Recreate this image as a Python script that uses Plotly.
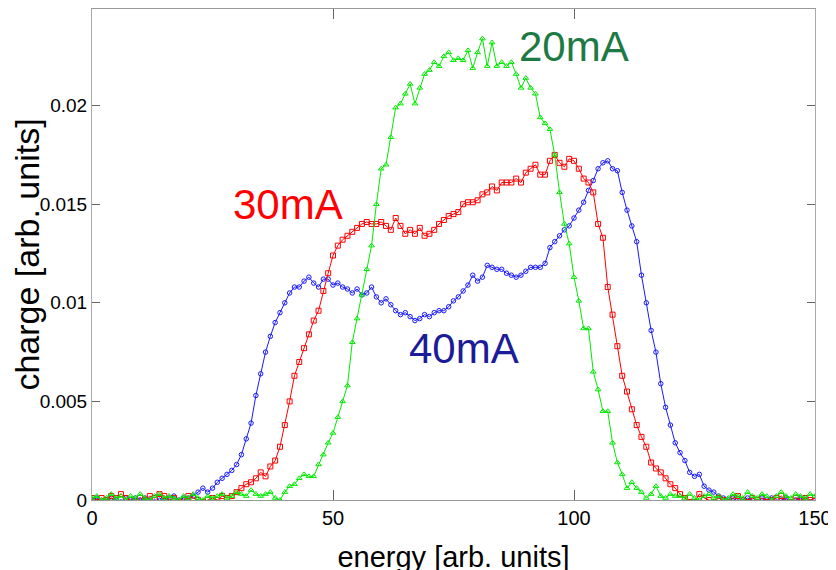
import plotly.graph_objects as go

energy = list(range(0, 151))

charge_20mA = [
    0.0001, 0.0002, 0.0000, 0.0001, 0.0003, 0.0001, 0.0002, 0.0000, 0.0002, 0.0001,
    0.0003, 0.0001, 0.0000, 0.0002, 0.0003, 0.0001, 0.0002, 0.0001, 0.0000, 0.0002,
    0.0001, 0.0003, 0.0001, 0.0000, 0.0002, 0.0001, 0.0002, 0.0003, 0.0001, 0.0002,
    0.0004, 0.0003, 0.0002, 0.0005, 0.0003, 0.0002, 0.0003, 0.0004, 0.0001, 0.0000,
    0.0004, 0.0007, 0.0008, 0.0011, 0.0013, 0.0012, 0.0012, 0.0018, 0.0023, 0.0029,
    0.0034, 0.0042, 0.0050, 0.0058, 0.0080, 0.0092, 0.0104, 0.0117, 0.0129, 0.0150,
    0.0168, 0.0170, 0.0184, 0.0199, 0.0201, 0.0206, 0.0211, 0.0201, 0.0209, 0.0216,
    0.0218, 0.0222, 0.0220, 0.0225, 0.0227, 0.0223, 0.0224, 0.0223, 0.0228, 0.0219,
    0.0227, 0.0234, 0.0220, 0.0232, 0.0220, 0.0222, 0.0220, 0.0222, 0.0216, 0.0209,
    0.0214, 0.0209, 0.0206, 0.0194, 0.0191, 0.0188, 0.0175, 0.0156, 0.0140, 0.0130,
    0.0113, 0.0101, 0.0087, 0.0087, 0.0065, 0.0056, 0.0045, 0.0045, 0.0029, 0.0019,
    0.0013, 0.0006, 0.0009, 0.0006, 0.0004, 0.0001, 0.0003, 0.0007, 0.0002, 0.0001,
    0.0003, 0.0002, 0.0002, 0.0001, 0.0003, 0.0001, 0.0000, 0.0002, 0.0003, 0.0001,
    0.0002, 0.0000, 0.0001, 0.0003, 0.0002, 0.0001, 0.0004, 0.0002, 0.0001, 0.0003,
    0.0002, 0.0000, 0.0002, 0.0004, 0.0002, 0.0001, 0.0003, 0.0002, 0.0001, 0.0003,
    0.0002,
]

charge_30mA = [
    0.0001, -0.0001, 0.0001, 0.0000, 0.0002, 0.0001, 0.0003, 0.0001, 0.0000, -0.0001,
    0.0001, 0.0000, 0.0002, 0.0001, 0.0003, 0.0002, 0.0000, 0.0001, -0.0001, 0.0000,
    0.0002, 0.0001, 0.0000, -0.0001, 0.0000, 0.0001, 0.0000, 0.0002, 0.0001, 0.0002,
    0.0004, 0.0006, 0.0008, 0.0009, 0.0011, 0.0014, 0.0012, 0.0017, 0.0020, 0.0027,
    0.0038, 0.0050, 0.0063, 0.0070, 0.0077, 0.0084, 0.0091, 0.0096, 0.0106, 0.0115,
    0.0124, 0.0129, 0.0132, 0.0134, 0.0136, 0.0138, 0.0140, 0.0141, 0.0140, 0.0140,
    0.0141, 0.0139, 0.0137, 0.0143, 0.0139, 0.0135, 0.0137, 0.0135, 0.0138, 0.0134,
    0.0135, 0.0137, 0.0140, 0.0142, 0.0144, 0.0145, 0.0146, 0.0150, 0.0151, 0.0151,
    0.0152, 0.0155, 0.0156, 0.0159, 0.0157, 0.0161, 0.0161, 0.0161, 0.0163, 0.0161,
    0.0166, 0.0168, 0.0170, 0.0165, 0.0165, 0.0172, 0.0175, 0.0171, 0.0169, 0.0173,
    0.0172, 0.0168, 0.0163, 0.0161, 0.0156, 0.0140, 0.0133, 0.0108, 0.0094, 0.0078,
    0.0063, 0.0055, 0.0046, 0.0038, 0.0032, 0.0027, 0.0019, 0.0016, 0.0014, 0.0011,
    0.0008, 0.0006, 0.0003, 0.0001, -0.0001, -0.0001, 0.0003, 0.0001, 0.0000, -0.0001,
    0.0001, 0.0000, -0.0001, 0.0001, 0.0002, 0.0000, -0.0001, 0.0001, 0.0000, 0.0001,
    -0.0001, 0.0000, 0.0001, 0.0002, 0.0000, -0.0001, 0.0001, 0.0000, 0.0001, 0.0000,
    0.0001,
]

charge_40mA = [
    0.0000, 0.0001, -0.0001, 0.0000, 0.0001, 0.0000, -0.0001, 0.0001, 0.0000, 0.0001,
    0.0000, 0.0001, 0.0000, -0.0001, 0.0001, 0.0000, 0.0001, 0.0002, 0.0000, 0.0001,
    0.0001, 0.0002, 0.0004, 0.0006, 0.0004, 0.0006, 0.0009, 0.0011, 0.0013, 0.0015,
    0.0018, 0.0023, 0.0031, 0.0039, 0.0053, 0.0064, 0.0075, 0.0083, 0.0090, 0.0095,
    0.0100, 0.0105, 0.0108, 0.0108, 0.0111, 0.0113, 0.0110, 0.0108, 0.0112, 0.0112,
    0.0109, 0.0110, 0.0108, 0.0107, 0.0105, 0.0107, 0.0104, 0.0105, 0.0108, 0.0103,
    0.0100, 0.0102, 0.0099, 0.0096, 0.0094, 0.0095, 0.0093, 0.0091, 0.0092, 0.0094,
    0.0093, 0.0095, 0.0096, 0.0096, 0.0098, 0.0101, 0.0103, 0.0106, 0.0109, 0.0114,
    0.0111, 0.0113, 0.0119, 0.0118, 0.0117, 0.0117, 0.0115, 0.0114, 0.0113, 0.0114,
    0.0116, 0.0118, 0.0118, 0.0118, 0.0120, 0.0128, 0.0131, 0.0134, 0.0137, 0.0139,
    0.0143, 0.0147, 0.0151, 0.0157, 0.0162, 0.0168, 0.0171, 0.0172, 0.0168, 0.0167,
    0.0156, 0.0147, 0.0139, 0.0131, 0.0114, 0.0100, 0.0086, 0.0075, 0.0059, 0.0047,
    0.0038, 0.0029, 0.0024, 0.0020, 0.0014, 0.0012, 0.0013, 0.0007, 0.0005, 0.0004,
    0.0002, 0.0001, 0.0000, 0.0001, -0.0001, 0.0000, 0.0001, 0.0000, -0.0001, 0.0001,
    0.0000, 0.0001, -0.0001, 0.0000, 0.0001, -0.0001, 0.0000, 0.0001, 0.0000, -0.0001,
    0.0000,
]

x_ticks = [0, 50, 100, 150]
x_tick_labels = ["0", "50", "100", "150"]
y_ticks = [0, 0.005, 0.01, 0.015, 0.02]
y_tick_labels = ["0", "0.005", "0.01", "0.015", "0.02"]

labels = ["40mA", "30mA", "20mA"]
label_pos_x = [77.1, 40.6, 99.9]
label_pos_y = [0.0077, 0.0150, 0.0230]
label_colors = ["#1c1c99", "#ff0000", "#1e7a45"]

FONT = "Liberation Sans, Arial, sans-serif"

fig = go.Figure()
series = [
    (charge_40mA, "rgb(25,25,255)", "circle-open", 4.5),
    (charge_30mA, "rgb(255,0,0)", "square-open", 5),
    (charge_20mA, "rgb(0,235,0)", "triangle-up-open", 5),
]
for vals, col, sym, ms in series:
    fig.add_trace(go.Scatter(
        x=energy, y=vals, mode="lines+markers",
        line=dict(color=col, width=1),
        marker=dict(symbol=sym, size=ms, color=col, line=dict(width=1, color=col)),
        showlegend=False, cliponaxis=True,
    ))

for t, xx, yy, c in zip(labels, label_pos_x, label_pos_y, label_colors):
    fig.add_annotation(x=xx, y=yy, text=t, showarrow=False,
                       font=dict(family=FONT, size=42, color=c),
                       xanchor="center", yanchor="middle")

# the page body adds an 8px offset, so margins are reduced by 8 on left/top
fig.update_layout(
    width=836, height=570,
    margin=dict(l=84, r=29, t=1, b=78),
    paper_bgcolor="white", plot_bgcolor="white",
    xaxis=dict(
        range=[0, 150], tickvals=x_ticks, ticktext=x_tick_labels, automargin=False,
        showgrid=False, zeroline=False, showline=True, linecolor="#999", linewidth=1,
        mirror="ticks", ticks="inside", ticklen=10, tickcolor="#666",
        tickfont=dict(family=FONT, size=20, color="black"),
        title=dict(text="energy [arb. units]", standoff=18,
                   font=dict(family=FONT, size=29, color="black")),
    ),
    yaxis=dict(
        range=[0, 0.0249], tickvals=y_ticks, ticktext=y_tick_labels, automargin=False,
        showgrid=False, zeroline=True, zerolinecolor="#222", zerolinewidth=1.5,
        showline=True, linecolor="#aaa", linewidth=1,
        mirror="ticks", ticks="inside", ticklen=8, tickcolor="#666",
        tickfont=dict(family=FONT, size=19, color="black"),
        title=dict(text="charge [arb. units]", standoff=1,
                   font=dict(family=FONT, size=34, color="black")),
    ),
)

fig.write_html("out.html")
